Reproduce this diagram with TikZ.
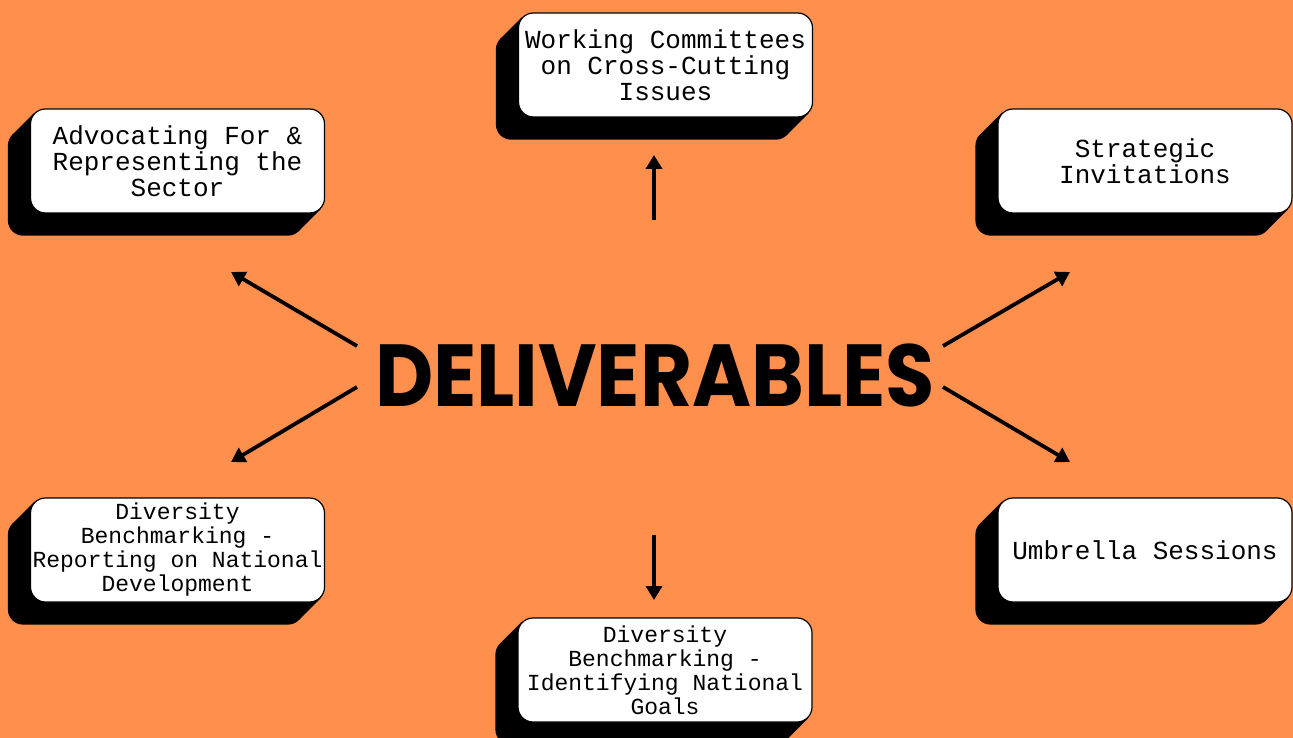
\documentclass[tikz,border=0pt]{standalone}
\usepackage{fontspec}
\setmonofont{Liberation Mono}
\newfontfamily\titlefont{Poppins}
\usetikzlibrary{arrows.meta,backgrounds}
\definecolor{sheet}{RGB}{255,143,76}
\tikzset{
  card/.style={draw=black, line width=1.2pt, fill=white, rounded corners=15pt,
    minimum width=294pt, minimum height=104pt, inner sep=0pt, align=center,
    font=\ttfamily\fontsize{26}{26}\selectfont},
  small card/.style={card, font=\ttfamily\fontsize{23}{24}\selectfont},
  link/.style={line width=3.8pt, -{Triangle[length=14pt,width=16pt]}}
}
\begin{document}
\begin{tikzpicture}[x=1pt,y=1pt]
\useasboundingbox (0,0) rectangle (1293,-738);
\begin{scope}[on background layer]
  \fill[sheet] (0,0) rectangle (1293,-738);
\end{scope}
% boxes
\node[card] (work) at (665.5,-65) {Working Committees\\on Cross-Cutting\\Issues};
\node[card] (advo) at (177.5,-161) {Advocating For \&\\Representing the\\Sector};
\node[card] (strat) at (1145,-161) {Strategic\\Invitations};
\node[small card] (repo) at (177.5,-550) {Diversity\\Benchmarking -\\Reporting on National\\Development};
\node[card] (umb) at (1145,-550) {Umbrella Sessions};
\node[small card] (goal) at (665,-670) {Diversity\\Benchmarking -\\Identifying National\\Goals};
% centre
\node (title) at (655,-375) {\titlefont\bfseries\fontsize{88}{88}\selectfont\scalebox{0.91}[1]{DELIVERABLES}};
% shadows
\begin{scope}[on background layer]
  \foreach \n in {work,advo,strat,repo,umb,goal} {
    \fill[rounded corners=15pt] ([shift={(-22,-22)}]\n.north west) rectangle ([shift={(-22,-22)}]\n.south east);
    \fill ([shift={(4.4,-4.4)}]\n.north west) -- ([shift={(-17.6,-26.4)}]\n.north west)
      -- ([shift={(-26.4,-17.6)}]\n.south east) -- ([shift={(-4.4,4.4)}]\n.south east) -- cycle;
  }
\end{scope}
% arrows
\coordinate (up-a) at (654,-220);   \coordinate (up-b) at (654,-155);
\coordinate (dn-a) at (654,-535);   \coordinate (dn-b) at (654,-600);
\coordinate (ul-a) at (357,-346);   \coordinate (ul-b) at (231,-272);
\coordinate (ll-a) at (357,-387);   \coordinate (ll-b) at (231,-462);
\coordinate (ur-a) at (943,-346);   \coordinate (ur-b) at (1070,-272);
\coordinate (lr-a) at (943,-387);   \coordinate (lr-b) at (1070,-462);
\draw[link] (up-a) -- (up-b);
\draw[link] (dn-a) -- (dn-b);
\draw[link] (ul-a) -- (ul-b);
\draw[link] (ll-a) -- (ll-b);
\draw[link] (ur-a) -- (ur-b);
\draw[link] (lr-a) -- (lr-b);
\end{tikzpicture}
\end{document}
